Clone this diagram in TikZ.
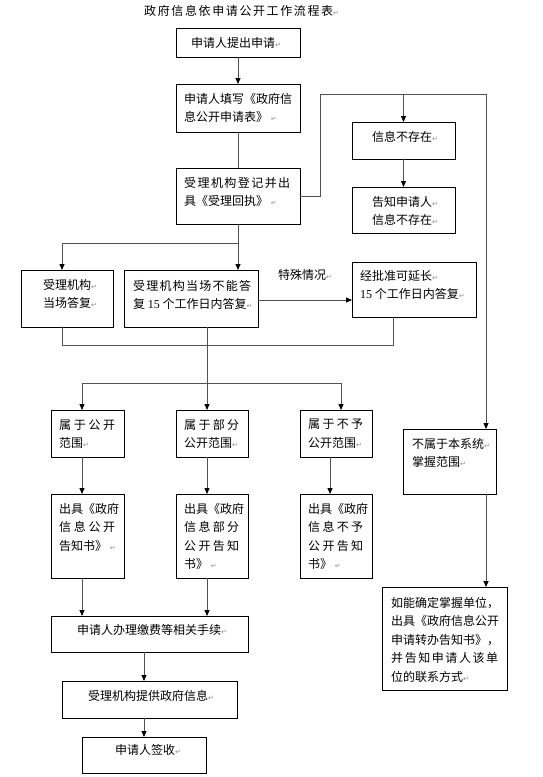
\documentclass[tikz,border=0pt]{standalone}
\usepackage{fontspec}
\usetikzlibrary{arrows.meta,calc}
\newfontfamily\cjk{Noto Sans CJK SC}
\newfontfamily\dejavu{DejaVu Sans}
\newfontfamily\tnr{Liberation Serif}
\newcommand\pmk{{\dejavu\fontsize{7}{7}\selectfont\color{black!45}↵}}
\def\sprA#1{#1\sprB}
\def\sprB#1{\ifx\relax#1\else\hfil#1\expandafter\sprB\fi}
\newcommand\spr[2]{\makebox[#1pt][s]{\sprA#2\relax}}
\newcommand\num[1]{{\tnr #1}}
\begin{document}
\begin{tikzpicture}[x=1pt,y=-1pt,
 box/.style={draw=black,line width=0.9pt,inner sep=0pt,outer sep=0pt,anchor=north west},
 txt/.style={inner sep=0pt,anchor=north west,align=left,font=\cjk\fontsize{12}{18.5}\selectfont,execute at begin node={\rule{0pt}{10.5pt}}},
 con/.style={draw=black!68,line width=0.9pt},
 arr/.style={con,-{Triangle[length=6pt,width=5pt,color=black]}}]
\useasboundingbox (0,0) rectangle (543,777);
% boxes
\node[box,minimum width=124pt,minimum height=29pt] (A) at (176,28) {};
\node[box,minimum width=124pt,minimum height=48pt] (B) at (176,84) {};
\node[box,minimum width=124pt,minimum height=56pt] (C) at (176,168) {};
\node[box,minimum width=103pt,minimum height=37pt] (D) at (352,122) {};
\node[box,minimum width=103pt,minimum height=46pt] (E) at (352,187) {};
\node[box,minimum width=92pt,minimum height=57pt] (F) at (21,270) {};
\node[box,minimum width=134pt,minimum height=57pt] (G) at (124,270) {};
\node[box,minimum width=124pt,minimum height=55pt] (H) at (352,262) {};
\node[box,minimum width=73pt,minimum height=47pt] (I) at (51,410) {};
\node[box,minimum width=72pt,minimum height=47pt] (J) at (176,410) {};
\node[box,minimum width=72pt,minimum height=47pt] (K) at (300,410) {};
\node[box,minimum width=93pt,minimum height=65pt] (L) at (403,429) {};
\node[box,minimum width=73pt,minimum height=84pt] (M) at (51,494) {};
\node[box,minimum width=72pt,minimum height=84pt] (N) at (176,494) {};
\node[box,minimum width=72pt,minimum height=84pt] (O) at (300,494) {};
\node[box,minimum width=125pt,minimum height=103pt] (P) at (382,587) {};
\node[box,minimum width=197pt,minimum height=36pt] (Q) at (51,616) {};
\node[box,minimum width=175pt,minimum height=37pt] (R) at (62,681) {};
\node[box,minimum width=124pt,minimum height=36pt] (S) at (82,737) {};
% texts
\node[txt] (title) at (144,4.5) {\spr{189}{政府信息依申请公开工作流程表}\pmk};
\node[txt] (tA) at (191,36.5) {申请人提出申请\pmk};
\node[txt] (tB) at (184,93) {申请人填写《政府信\\息公开申请表》 \pmk};
\node[txt] (tC) at (184,177) {\spr{106}{受理机构登记并出}\\具《受理回执》 \pmk};
\node[txt] (tD) at (372,131) {信息不存在\pmk};
\node[txt] (tE) at (372,196) {告知申请人\pmk\\信息不存在\pmk};
\node[txt] (tF) at (43,279) {受理机构\pmk\\当场答复\pmk};
\node[txt] (tG) at (133,280) {\spr{118}{受理机构当场不能答}\\复 \num{15} 个工作日内答复\pmk};
\node[txt] (lab) at (278,269) {特殊情况\pmk};
\node[txt] (tH) at (360,270) {经批准可延长\pmk\\\num{15} 个工作日内答复\pmk};
\node[txt] (tI) at (59,419) {\spr{56}{属于公开}\\范围\pmk};
\node[txt] (tJ) at (184,419) {\spr{55}{属于部分}\\公开范围\pmk};
\node[txt] (tK) at (308,419) {\spr{55}{属于不予}\\公开范围\pmk};
\node[txt] (tL) at (412,438) {不属于本系统\pmk\\掌握范围\pmk};
\node[txt] (tM) at (59,503) {出具《政府\\\spr{56}{信息公开}\\告知书》 \pmk};
\node[txt] (tN) at (184,503) {出具《政府\\\spr{55}{信息部分}\\\spr{55}{公开告知}\\书》 \pmk};
\node[txt] (tO) at (308,503) {出具《政府\\\spr{55}{信息不予}\\\spr{55}{公开告知}\\书》 \pmk};
\node[txt] (tP) at (391,597) {如能确定掌握单位，\\出具《政府信息公开\\申请转办告知书》，\\\spr{107}{并告知申请人该单}\\位的联系方式\pmk};
\node[txt] (tQ) at (77,624) {申请人办理缴费等相关手续\pmk};
\node[txt] (tR) at (88,690) {受理机构提供政府信息\pmk};
\node[txt] (tS) at (115,744) {申请人签收\pmk};
% coordinates
\coordinate (c1) at (320,94);
\coordinate (c2) at (486,94);
\coordinate (c3) at (403.5,94);
\coordinate (c4) at (238,243);
\coordinate (c5) at (62,243);
\coordinate (c6) at (62,345);
\coordinate (c7) at (393,345);
\coordinate (c8) at (207,383);
\coordinate (c9) at (82,383);
\coordinate (c10) at (341,383);
\coordinate (c11) at (330,0);
\coordinate (c12) at (144,0);
\coordinate (gE) at (258,300);
% connectors
\draw[arr] (A.south) -- (B.north);
\draw[con] (B.south) -- (C.north);
\draw[arr] (C.east) -- (C.east -| c1) -- (c1) -- (c2) -- (c2 |- L.north);
\draw[arr] (c3) -- (c3 |- D.north);
\draw[arr] (D.south) -- (E.north);
\draw[con] (C.south) -- (c4);
\draw[arr] (c4) -- (c5) -- (c5 |- F.north);
\draw[arr] (c4) -- (c4 |- G.north);
\draw[arr] (gE) -- (gE -| H.west);
\draw[con] (c5 |- F.south) -- (c6) -- (c7) -- (c7 |- H.south);
\draw[con] (c8 |- G.south) -- (c8);
\draw[con] (c9) -- (c10);
\draw[arr] (c9) -- (c9 |- I.north);
\draw[arr] (c8) -- (c8 |- J.north);
\draw[arr] (c10) -- (c10 |- K.north);
\draw[arr] (c9 |- I.south) -- (c9 |- M.north);
\draw[arr] (c8 |- J.south) -- (c8 |- N.north);
\draw[arr] (c11 |- K.south) -- (c11 |- O.north);
\draw[arr] (c2 |- L.south) -- (c2 |- P.north);
\draw[arr] (c9 |- M.south) -- (c9 |- Q.north);
\draw[arr] (c8 |- N.south) -- (c8 |- Q.north);
\draw[arr] (c12 |- Q.south) -- (c12 |- R.north);
\draw[arr] (c12 |- R.south) -- (c12 |- S.north);
\end{tikzpicture}
\end{document}
